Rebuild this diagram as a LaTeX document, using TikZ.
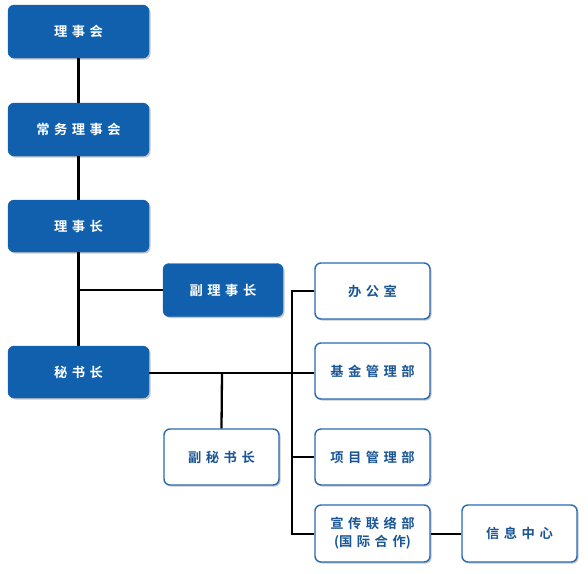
\documentclass[tikz,border=0pt]{standalone}
\usepackage{fontspec}
\setmainfont{Noto Sans CJK SC}[BoldFont={Noto Sans CJK SC Bold}]
\usetikzlibrary{shadows}
\newcommand{\gp}{\hspace{4.5pt}}
\definecolor{boxblue}{RGB}{16,96,174}
\definecolor{edgeblue}{RGB}{40,105,178}
\definecolor{txtblue}{RGB}{26,86,150}
\tikzset{
  base/.style={rounded corners=6pt, inner sep=0pt, font=\bfseries\fontsize{13.3}{18}\selectfont, align=center,
    drop shadow={shadow xshift=1.6pt, shadow yshift=-1.6pt, opacity=0.45, fill=gray}},
  bluebox/.style={base, fill=boxblue, draw=boxblue, text=white},
  whitebox/.style={base, fill=white, draw=edgeblue, line width=1.4pt, text=txtblue},
  conn/.style={draw=black, line width=2.3pt}
}
\begin{document}
\begin{tikzpicture}[x=1pt,y=-1pt]
\useasboundingbox (0,0) rectangle (588,573);
\node[bluebox, minimum width=141pt, minimum height=53pt] (lsh) at (78.5,31.5) {理\gp 事\gp 会};
\node[bluebox, minimum width=141pt, minimum height=53pt] (cw) at (78.5,129.5) {常\gp 务\gp 理\gp 事\gp 会};
\node[bluebox, minimum width=141pt, minimum height=52pt] (lsz) at (78.5,226) {理\gp 事\gp 长};
\node[bluebox, minimum width=120pt, minimum height=53pt] (flsz) at (223,290) {副\gp 理\gp 事\gp 长};
\node[bluebox, minimum width=141pt, minimum height=52pt] (msz) at (78.5,372) {秘\gp 书\gp 长};
\node[whitebox, minimum width=115pt, minimum height=56pt] (fmsz) at (221.5,457) {副\gp 秘\gp 书\gp 长};
\node[whitebox, minimum width=115pt, minimum height=56pt] (bgs) at (372.5,291) {办\gp 公\gp 室};
\node[whitebox, minimum width=115pt, minimum height=56pt] (jj) at (372.5,371) {基\gp 金\gp 管\gp 理\gp 部};
\node[whitebox, minimum width=115pt, minimum height=56pt] (xm) at (372.5,457) {项\gp 目\gp 管\gp 理\gp 部};
\node[whitebox, minimum width=115pt, minimum height=57pt] (xc) at (372.5,533.5) {宣\gp 传\gp 联\gp 络\gp 部\\(国\gp 际\gp 合\gp 作)};
\node[whitebox, minimum width=115pt, minimum height=57pt] (xx) at (519.5,533.5) {信\gp 息\gp 中\gp 心};
\coordinate (br2) at (222,373);
\coordinate (bt) at (292,291);
\coordinate (bb) at (292,534);
\draw[conn] (lsh.south) -- (cw.north);
\draw[conn] (cw.south) -- (lsz.north);
\draw[conn] (lsz.south) -- (msz.north);
\draw[conn] (lsz.south |- flsz.west) -- (flsz.west);
\draw[conn] (msz.east |- br2) -- (jj.west |- br2);
\draw[conn] (br2) -- (fmsz.north);
\draw[conn] (bgs.west |- bt) -- (bt) -- (bb) -- (xc.west |- bb);
\draw[conn] (bt |- xm.west) -- (xm.west);
\draw[conn] (xc.east |- bb) -- (xx.west |- bb);
\end{tikzpicture}
\end{document}
